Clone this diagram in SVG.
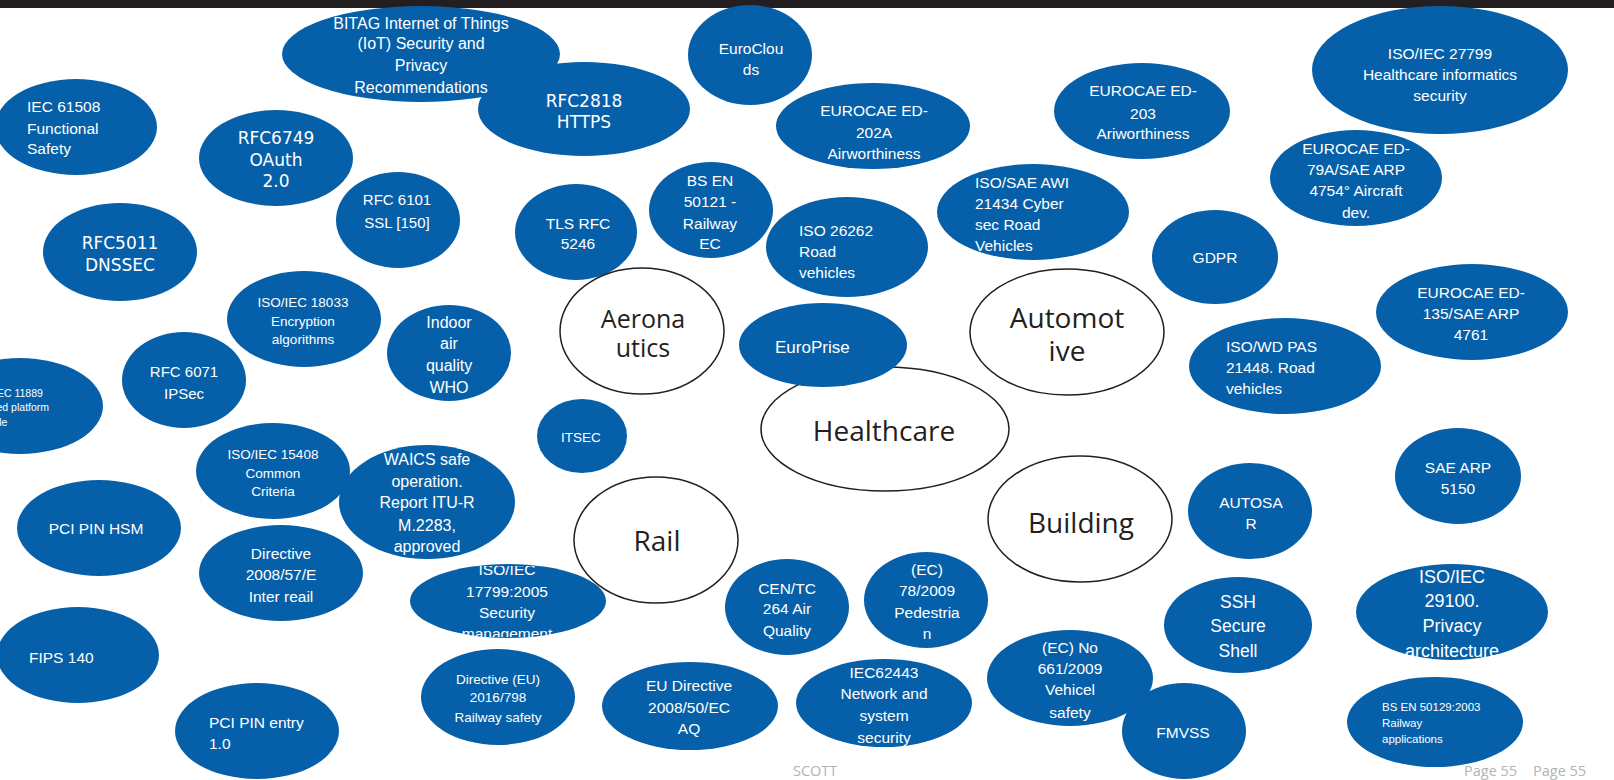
<svg xmlns="http://www.w3.org/2000/svg" width="1614" height="780" viewBox="0 0 1614 780">
<defs>
<style>
.n{fill:#065fa9}
.c{fill:#fff;stroke:#231f20;stroke-width:1.5}
.t{font-family:"Liberation Sans",Arial,sans-serif;fill:#fff;font-size:15.5px;text-anchor:middle;dominant-baseline:central}
.l{text-anchor:start}
.r{font-family:"DejaVu Sans",sans-serif;font-size:17px}
.k{font-family:"Open Sans",sans-serif;fill:#231f20;text-anchor:middle;dominant-baseline:central}
.f{font-family:"Open Sans",sans-serif;fill:#b3b3b3;font-size:14.5px;dominant-baseline:central}
</style>
<clipPath id="clip17799"><rect x="400" y="566" width="220" height="71"/></clipPath>
</defs>
<rect x="0" y="0" width="1614" height="8" fill="#231f20"/>

<g id="rfc2818"><ellipse class="n" cx="584" cy="109" rx="106" ry="47"/><text class="t r" x="584"><tspan x="584" y="101">RFC2818</tspan><tspan x="584" y="122">HTTPS</tspan></text></g>
<g id="bitag"><ellipse class="n" cx="421" cy="54" rx="139" ry="48"/><text class="t" style="font-size:16px"><tspan x="421" y="23">BITAG Internet of Things</tspan><tspan x="421" y="43">(IoT) Security and</tspan><tspan x="421" y="65">Privacy</tspan><tspan x="421" y="87">Recommendations</tspan></text></g>
<g id="iec61508"><ellipse class="n" cx="76" cy="127" rx="81" ry="48"/><text class="t l"><tspan x="27" y="106">IEC 61508</tspan><tspan x="27" y="128">Functional</tspan><tspan x="27" y="148">Safety</tspan></text></g>
<g id="rfc6749"><ellipse class="n" cx="276" cy="158" rx="77" ry="48"/><text class="t r"><tspan x="276" y="138">RFC6749</tspan><tspan x="276" y="160">OAuth</tspan><tspan x="276" y="181">2.0</tspan></text></g>
<g id="euroclouds"><ellipse class="n" cx="750" cy="55" rx="62" ry="50"/><text class="t"><tspan x="751" y="48">EuroClou</tspan><tspan x="751" y="69">ds</tspan></text></g>
<g id="ed202a"><ellipse class="n" cx="873" cy="126" rx="97" ry="43"/><text class="t"><tspan x="874" y="110">EUROCAE ED-</tspan><tspan x="874" y="132">202A</tspan><tspan x="874" y="153">Airworthiness</tspan></text></g>
<g id="ed203"><ellipse class="n" cx="1142" cy="111" rx="88" ry="48"/><text class="t"><tspan x="1143" y="90">EUROCAE ED-</tspan><tspan x="1143" y="113">203</tspan><tspan x="1143" y="133">Ariworthiness</tspan></text></g>
<g id="iso27799"><ellipse class="n" cx="1440" cy="70" rx="128" ry="64"/><text class="t"><tspan x="1440" y="53">ISO/IEC 27799</tspan><tspan x="1440" y="74">Healthcare informatics</tspan><tspan x="1440" y="95">security</tspan></text></g>
<g id="ed79a"><ellipse class="n" cx="1356" cy="178" rx="86" ry="48"/><text class="t"><tspan x="1356" y="148">EUROCAE ED-</tspan><tspan x="1356" y="169">79A/SAE ARP</tspan><tspan x="1356" y="190">4754° Aircraft</tspan><tspan x="1356" y="212">dev.</tspan></text></g>
<g id="rfc6101"><ellipse class="n" cx="398" cy="220" rx="62" ry="48"/><text class="t" style="font-size:15px"><tspan x="397" y="199">RFC 6101</tspan><tspan x="397" y="222">SSL [150]</tspan></text></g>
<g id="rfc5011"><ellipse class="n" cx="120" cy="252" rx="77" ry="49"/><text class="t r"><tspan x="120" y="243">RFC5011</tspan><tspan x="120" y="265">DNSSEC</tspan></text></g>
<g id="tls"><ellipse class="n" cx="576" cy="232" rx="61" ry="48"/><text class="t"><tspan x="578" y="223">TLS RFC</tspan><tspan x="578" y="243">5246</tspan></text></g>
<g id="bsen50121"><ellipse class="n" cx="711" cy="210" rx="62" ry="48"/><text class="t"><tspan x="710" y="180">BS EN</tspan><tspan x="710" y="201">50121 -</tspan><tspan x="710" y="223">Railway</tspan><tspan x="710" y="243">EC</tspan></text></g>
<g id="iso26262"><ellipse class="n" cx="847" cy="247" rx="81" ry="50"/><text class="t l"><tspan x="799" y="230">ISO 26262</tspan><tspan x="799" y="251">Road</tspan><tspan x="799" y="272">vehicles</tspan></text></g>
<g id="isosae21434"><ellipse class="n" cx="1033" cy="212" rx="96" ry="48"/><text class="t l"><tspan x="975" y="182">ISO/SAE AWI</tspan><tspan x="975" y="203">21434 Cyber</tspan><tspan x="975" y="224">sec Road</tspan><tspan x="975" y="245">Vehicles</tspan></text></g>
<g id="gdpr"><ellipse class="n" cx="1215" cy="257" rx="63" ry="47"/><text class="t" x="1215" y="257">GDPR</text></g>
<g id="ed135"><ellipse class="n" cx="1472" cy="312" rx="96" ry="48"/><text class="t"><tspan x="1471" y="292">EUROCAE ED-</tspan><tspan x="1471" y="313">135/SAE ARP</tspan><tspan x="1471" y="334">4761</tspan></text></g>
<g id="iso18033"><ellipse class="n" cx="304" cy="319" rx="77" ry="48"/><text class="t" style="font-size:13.5px"><tspan x="303" y="302">ISO/IEC 18033</tspan><tspan x="303" y="321">Encryption</tspan><tspan x="303" y="339">algorithms</tspan></text></g>
<g id="indoor"><ellipse class="n" cx="449" cy="353" rx="62" ry="48"/><text class="t" style="font-size:16px"><tspan x="449" y="322">Indoor</tspan><tspan x="449" y="343">air</tspan><tspan x="449" y="365">quality</tspan><tspan x="449" y="387">WHO</tspan></text></g>
<g id="pas21448"><ellipse class="n" cx="1285" cy="366" rx="96" ry="48"/><text class="t l"><tspan x="1226" y="346">ISO/WD PAS</tspan><tspan x="1226" y="367">21448. Road</tspan><tspan x="1226" y="388">vehicles</tspan></text></g>
<g id="iso11889"><ellipse class="n" cx="20" cy="406" rx="83" ry="48"/><text class="t l" style="font-size:10.5px"><tspan x="-27" y="393">ISO/IEC 11889</tspan><tspan x="-27" y="407">Trusted platform</tspan><tspan x="-27" y="422">module</tspan></text></g>
<g id="rfc6071"><ellipse class="n" cx="184" cy="380" rx="62" ry="48"/><text class="t" style="font-size:15px"><tspan x="184" y="371">RFC 6071</tspan><tspan x="184" y="393">IPSec</tspan></text></g>
<g id="itsec"><ellipse class="n" cx="582" cy="436" rx="45" ry="37"/><text class="t" style="font-size:13.5px" x="581" y="437">ITSEC</text></g>
<g id="iso15408"><ellipse class="n" cx="273" cy="471" rx="77" ry="48"/><text class="t" style="font-size:13.5px"><tspan x="273" y="454">ISO/IEC 15408</tspan><tspan x="273" y="473">Common</tspan><tspan x="273" y="491">Criteria</tspan></text></g>
<g id="waics"><ellipse class="n" cx="427" cy="502" rx="88" ry="57"/><text class="t" style="font-size:16px"><tspan x="427" y="459">WAICS safe</tspan><tspan x="427" y="481">operation.</tspan><tspan x="427" y="502">Report ITU-R</tspan><tspan x="427" y="525">M.2283,</tspan><tspan x="427" y="546">approved</tspan></text></g>
<g id="sae5150"><ellipse class="n" cx="1458" cy="476" rx="63" ry="48"/><text class="t"><tspan x="1458" y="467">SAE ARP</tspan><tspan x="1458" y="488">5150</tspan></text></g>
<g id="autosar"><ellipse class="n" cx="1250" cy="511" rx="62" ry="48"/><text class="t"><tspan x="1251" y="502">AUTOSA</tspan><tspan x="1251" y="523">R</tspan></text></g>
<g id="pcipinhsm"><ellipse class="n" cx="99" cy="528" rx="82" ry="48"/><text class="t" x="96" y="528">PCI PIN HSM</text></g>
<g id="dir200857"><ellipse class="n" cx="281" cy="573" rx="82" ry="48"/><text class="t"><tspan x="281" y="553">Directive</tspan><tspan x="281" y="574">2008/57/E</tspan><tspan x="281" y="596">Inter reail</tspan></text></g>
<g id="iso17799"><ellipse class="n" cx="508" cy="601" rx="98" ry="37"/><text class="t" clip-path="url(#clip17799)"><tspan x="507" y="569">ISO/IEC</tspan><tspan x="507" y="591">17799:2005</tspan><tspan x="507" y="612">Security</tspan><tspan x="507" y="633">management</tspan></text></g>
<g id="centc264"><ellipse class="n" cx="787" cy="607" rx="62" ry="48"/><text class="t"><tspan x="787" y="588">CEN/TC</tspan><tspan x="787" y="608">264 Air</tspan><tspan x="787" y="630">Quality</tspan></text></g>
<g id="ec782009"><ellipse class="n" cx="926" cy="600" rx="62" ry="48"/><text class="t"><tspan x="927" y="569">(EC)</tspan><tspan x="927" y="590">78/2009</tspan><tspan x="927" y="612">Pedestria</tspan><tspan x="927" y="633">n</tspan></text></g>
<g id="ssh"><ellipse class="n" cx="1238" cy="625" rx="74" ry="48"/><text class="t" style="font-size:17.5px"><tspan x="1238" y="602">SSH</tspan><tspan x="1238" y="626">Secure</tspan><tspan x="1238" y="651">Shell</tspan></text></g>
<g id="iso29100"><ellipse class="n" cx="1452" cy="612" rx="96" ry="48"/><text class="t" style="font-size:18px"><tspan x="1452" y="577">ISO/IEC</tspan><tspan x="1452" y="601">29100.</tspan><tspan x="1452" y="626">Privacy</tspan><tspan x="1452" y="651">architecture</tspan></text></g>
<g id="fips140"><ellipse class="n" cx="78" cy="655" rx="81" ry="48"/><text class="t l" x="29" y="657">FIPS 140</text></g>
<g id="dir2016798"><ellipse class="n" cx="498" cy="697" rx="77" ry="48"/><text class="t" style="font-size:13.5px"><tspan x="498" y="679">Directive (EU)</tspan><tspan x="498" y="697">2016/798</tspan><tspan x="498" y="717">Railway safety</tspan></text></g>
<g id="eudir200850"><ellipse class="n" cx="690" cy="706" rx="88" ry="44"/><text class="t"><tspan x="689" y="685">EU Directive</tspan><tspan x="689" y="707">2008/50/EC</tspan><tspan x="689" y="728">AQ</tspan></text></g>
<g id="iec62443"><ellipse class="n" cx="884" cy="703" rx="88" ry="44"/><text class="t"><tspan x="884" y="672">IEC62443</tspan><tspan x="884" y="693">Network and</tspan><tspan x="884" y="715">system</tspan><tspan x="884" y="737">security</tspan></text></g>
<g id="ec6612009"><ellipse class="n" cx="1070" cy="678" rx="83" ry="48"/><text class="t"><tspan x="1070" y="647">(EC) No</tspan><tspan x="1070" y="668">661/2009</tspan><tspan x="1070" y="689">Vehicel</tspan><tspan x="1070" y="712">safety</tspan></text></g>
<g id="fmvss"><ellipse class="n" cx="1184" cy="731" rx="62" ry="48"/><text class="t" x="1183" y="732">FMVSS</text></g>
<g id="bsen50129"><ellipse class="n" cx="1435" cy="722" rx="88" ry="45"/><text class="t l" style="font-size:11.5px"><tspan x="1382" y="707">BS EN 50129:2003</tspan><tspan x="1382" y="723">Railway</tspan><tspan x="1382" y="739">applications</tspan></text></g>
<g id="pcipinentry"><ellipse class="n" cx="257" cy="731" rx="82" ry="48"/><text class="t l"><tspan x="209" y="722">PCI PIN entry</tspan><tspan x="209" y="743">1.0</tspan></text></g>

<g id="aeronautics"><ellipse class="c" cx="642" cy="331" rx="82" ry="63"/><text class="k" style="font-size:25px"><tspan x="643" y="318">Aerona</tspan><tspan x="643" y="347">utics</tspan></text></g>
<g id="automotive"><ellipse class="c" cx="1067" cy="332" rx="97" ry="63"/><text class="k" style="font-size:28px"><tspan x="1067" y="317">Automot</tspan><tspan x="1067" y="350">ive</tspan></text></g>
<g id="healthcare"><ellipse class="c" cx="885" cy="429" rx="124" ry="62"/><text class="k" style="font-size:28px" x="884" y="430">Healthcare</text></g>
<g id="building"><ellipse class="c" cx="1080" cy="519" rx="92" ry="63"/><text class="k" style="font-size:28px" x="1081" y="522">Building</text></g>
<g id="rail"><ellipse class="c" cx="656" cy="540" rx="82" ry="63"/><text class="k" style="font-size:28px" x="657" y="540">Rail</text></g>

<g id="europrise"><ellipse class="n" cx="823" cy="345" rx="84" ry="42"/><text class="t l" style="font-size:17px" x="775" y="347">EuroPrise</text></g>

<text class="f" x="793" y="770">SCOTT</text>
<text class="f" x="1464" y="770">Page 55</text>
<text class="f" x="1533" y="770">Page 55</text>
</svg>
